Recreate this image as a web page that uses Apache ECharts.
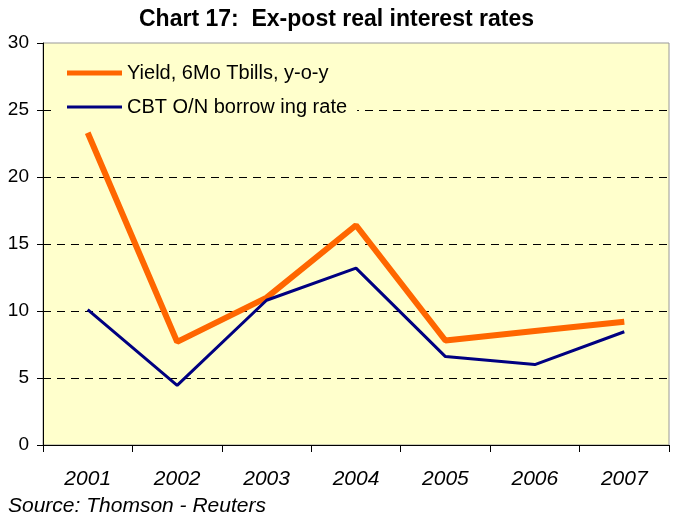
<!DOCTYPE html>
<html>
<head>
<meta charset="utf-8">
<script src="https://cdn.jsdelivr.net/npm/echarts@6/dist/echarts.min.js"></script>
<style>
  html, body { margin: 0; padding: 0; background: #fff; }
  #chart { width: 673px; height: 518px; }
</style>
</head>
<body>
<div id="chart"></div>
<script>
const years = ['2001', '2002', '2003', '2004', '2005', '2006', '2007']
const tbillYield = [23.3, 7.7, 11.0, 16.4, 7.8, 8.5, 9.2]
const cbtRate = [10.1, 4.45, 10.8, 13.2, 6.6, 6.0, 8.45]
const yTicks = [0, 5, 10, 15, 20, 25, 30]

const font = '"Liberation Sans", Arial, sans-serif'

// one legend per series so the two sample lines can have different thickness
function legendFor(name, top, thickness) {
  return {
    data: [name],
    left: 55,
    top: top,
    icon: 'rect',
    itemWidth: 55,
    itemHeight: thickness,
    padding: [5, 10, 5, 12],
    backgroundColor: '#FFFFCC',
    textStyle: { fontFamily: font, fontSize: 20, color: '#000', padding: [0, 0, 0, 0] }
  }
}

const chart = echarts.init(document.getElementById('chart'))
chart.setOption({
  animation: false,
  textStyle: { fontFamily: font },
  title: {
    text: 'Chart 17:  Ex-post real interest rates',
    left: 'center',
    top: 3,
    textStyle: { fontFamily: font, fontSize: 23, fontWeight: 'bold', color: '#000' }
  },
  graphic: [{
    type: 'text',
    left: 8,
    top: 496,
    style: { text: 'Source: Thomson - Reuters', font: 'italic 21px ' + font, fill: '#000' }
  }],
  legend: [
    legendFor('Yield, 6Mo Tbills, y-o-y', 58, 5),
    legendFor('CBT O/N borrow ing rate', 92, 3)
  ],
  grid: {
    left: 43,
    right: 4,
    top: 43,
    bottom: 73,
    show: true,
    backgroundColor: '#FFFFCC',
    borderColor: '#999',
    borderWidth: 1
  },
  xAxis: {
    type: 'category',
    data: years,
    boundaryGap: true,
    axisLine: { lineStyle: { color: '#000', width: 1 } },
    axisTick: { show: true, length: 7, lineStyle: { color: '#000' } },
    axisLabel: { margin: 24, fontFamily: font, fontSize: 21, fontStyle: 'italic', color: '#000' }
  },
  yAxis: {
    type: 'value',
    min: yTicks[0],
    max: yTicks[yTicks.length - 1],
    interval: 5,
    axisLine: { show: true, lineStyle: { color: '#000', width: 1 } },
    axisTick: { show: true, length: 6, lineStyle: { color: '#000' } },
    axisLabel: { margin: 14, fontFamily: font, fontSize: 19, color: '#000' },
    splitLine: {
      show: true,
      showMinLine: false,
      showMaxLine: false,
      lineStyle: { color: '#000', type: [8, 6], width: 1 }
    }
  },
  series: [
    {
      name: 'Yield, 6Mo Tbills, y-o-y',
      type: 'line',
      data: tbillYield,
      symbol: 'none',
      lineStyle: { color: '#FF6600', width: 6 },
      itemStyle: { color: '#FF6600' },
      z: 3
    },
    {
      name: 'CBT O/N borrow ing rate',
      type: 'line',
      data: cbtRate,
      symbol: 'none',
      lineStyle: { color: '#000080', width: 3 },
      itemStyle: { color: '#000080' },
      z: 4
    }
  ]
})
</script>
</body>
</html>
